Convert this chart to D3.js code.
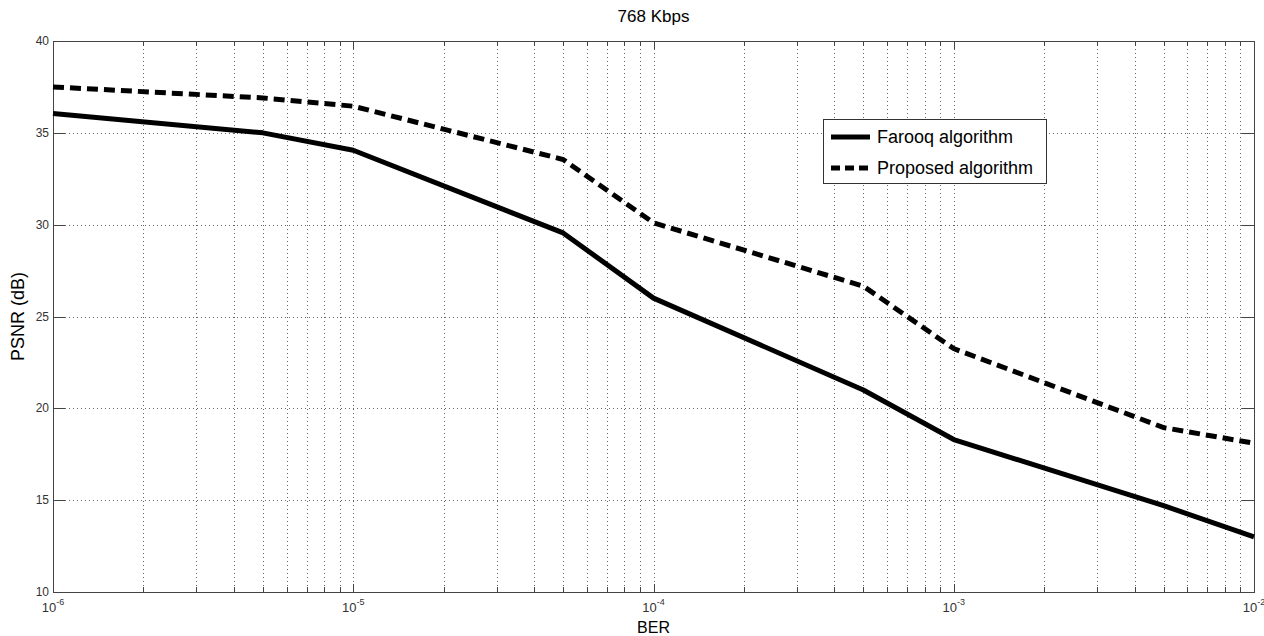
<!DOCTYPE html>
<html>
<head>
<meta charset="utf-8">
<script src="https://cdn.jsdelivr.net/npm/d3@7"></script>
<style>
  body { margin: 0; background: #fff; }
  text { font-family: "Liberation Sans", Arial, sans-serif; }
</style>
</head>
<body>
<svg id="chart" width="1264" height="636"></svg>
<script>
// data
const ber = [1e-6, 5e-6, 1e-5, 5e-5, 1e-4, 5e-4, 1e-3, 5e-3, 1e-2]
const farooq = [36.05, 35.0, 34.05, 29.55, 26.0, 21.0, 18.3, 14.7, 13.0]
const proposed = [37.5, 36.9, 36.45, 33.55, 30.1, 26.65, 23.25, 18.95, 18.1]
const seriesNames = ['Farooq algorithm', 'Proposed algorithm']
const yTicks = [10, 15, 20, 25, 30, 35, 40]
const xDecades = [-6, -5, -4, -3, -2]

const margin = { top: 41, right: 10, bottom: 44, left: 53 }
const width = 1264, height = 636
const svg = d3.select('#chart')

const x = d3.scaleLog().domain([1e-6, 1e-2]).range([margin.left, width - margin.right])
const y = d3.scaleLinear().domain([10, 40]).range([height - margin.bottom, margin.top])

const x0 = x.range()[0], x1 = x.range()[1]
const y0 = y.range()[0], y1 = y.range()[1]

// minor + major log ticks
const xAll = []
xDecades.forEach((d, i) => {
    if (i < xDecades.length - 1) {
        for (let m = 1; m <= 9; m++) xAll.push(m * Math.pow(10, d))
    } else xAll.push(Math.pow(10, d))
})

// grid
const grid = svg.append('g').attr('stroke', '#666').attr('stroke-width', 1)
    .attr('stroke-dasharray', '1,3')
grid.selectAll('line.vx').data(xAll.filter(v => v > 1e-6 && v < 1e-2)).enter()
    .append('line')
    .attr('x1', d => Math.round(x(d)) + 0.5).attr('x2', d => Math.round(x(d)) + 0.5)
    .attr('y1', y1).attr('y2', y0)
grid.selectAll('line.hy').data(yTicks.filter(v => v > 10 && v < 40)).enter()
    .append('line')
    .attr('x1', x0).attr('x2', x1)
    .attr('y1', d => Math.round(y(d)) + 0.5).attr('y2', d => Math.round(y(d)) + 0.5)

// inward ticks on all four sides
const ticks = svg.append('g').attr('stroke', '#444').attr('stroke-width', 1)
xAll.forEach(v => {
    const major = Math.abs(Math.log10(v) - Math.round(Math.log10(v))) < 1e-9
    const len = major ? 8 : 5
    const px = Math.round(x(v)) + 0.5
    ticks.append('line').attr('x1', px).attr('x2', px).attr('y1', y0).attr('y2', y0 - len)
    ticks.append('line').attr('x1', px).attr('x2', px).attr('y1', y1).attr('y2', y1 + len)
})
yTicks.forEach(v => {
    const py = Math.round(y(v)) + 0.5
    ticks.append('line').attr('x1', x0).attr('x2', x0 + 12).attr('y1', py).attr('y2', py)
    ticks.append('line').attr('x1', x1).attr('x2', x1 - 12).attr('y1', py).attr('y2', py)
})

// axes box
svg.append('rect')
    .attr('x', x0 + 0.5).attr('y', y1 + 0.5)
    .attr('width', x1 - x0).attr('height', y0 - y1)
    .attr('fill', 'none').attr('stroke', '#444').attr('stroke-width', 1)

// y tick labels
svg.append('g').selectAll('text').data(yTicks).enter()
    .append('text')
    .attr('x', x0 - 4).attr('y', d => y(d) + 4)
    .attr('text-anchor', 'end').attr('font-size', 12).attr('fill', '#333')
    .text(d => d)

// x tick labels 10^n
const xl = svg.append('g').selectAll('text').data(xDecades).enter()
    .append('text')
    .attr('x', d => x(Math.pow(10, d)))
    .attr('y', y0 + 20)
    .attr('text-anchor', 'middle').attr('font-size', 13).attr('fill', '#333')
xl.append('tspan').text('10')
xl.append('tspan').attr('dy', -7).attr('font-size', 9).text(d => '-' + Math.abs(d))

// lines
const line = d3.line().x(d => x(d[0])).y(d => y(d[1]))
svg.append('path')
    .datum(d3.zip(ber, farooq))
    .attr('d', line).attr('fill', 'none').attr('stroke', '#000')
    .attr('stroke-width', 5).attr('stroke-linejoin', 'round')
svg.append('path')
    .datum(d3.zip(ber, proposed))
    .attr('d', line).attr('fill', 'none').attr('stroke', '#000')
    .attr('stroke-width', 5).attr('stroke-dasharray', '11,6')

// title + labels
svg.append('text').attr('x', (x0 + x1) / 2).attr('y', 22)
    .attr('text-anchor', 'middle').attr('font-size', 17).text('768 Kbps')
svg.append('text').attr('x', (x0 + x1) / 2).attr('y', 633)
    .attr('text-anchor', 'middle').attr('font-size', 16).text('BER')
svg.append('text')
    .attr('transform', `translate(24,${(y0 + y1) / 2}) rotate(-90)`)
    .attr('text-anchor', 'middle').attr('font-size', 18).text('PSNR (dB)')

// legend
const lg = svg.append('g').attr('transform', 'translate(823,119)')
lg.append('rect').attr('x', 0.5).attr('y', 0.5).attr('width', 223).attr('height', 64)
    .attr('fill', '#fff').attr('stroke', '#333')
seriesNames.forEach((name, i) => {
    const ly = 18 + i * 31
    lg.append('line').attr('x1', 8).attr('x2', 47).attr('y1', ly).attr('y2', ly)
        .attr('stroke', '#000').attr('stroke-width', 5)
        .attr('stroke-dasharray', i === 1 ? '9,5' : null)
    lg.append('text').attr('x', 54).attr('y', ly + 6).attr('font-size', 18)
        .text(name)
})
</script>
</body>
</html>
